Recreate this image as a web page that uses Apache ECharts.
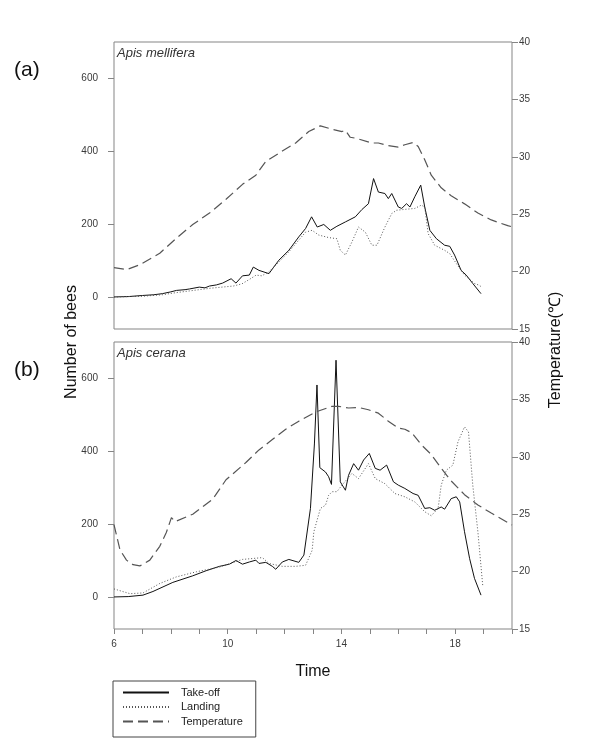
<!DOCTYPE html>
<html>
<head>
<meta charset="utf-8">
<script src="https://cdn.jsdelivr.net/npm/echarts@6/dist/echarts.min.js"></script>
<style>
  html, body { margin: 0; padding: 0; background: #fff; }
  #chart { width: 606px; height: 740px; }
</style>
</head>
<body>
<div id="chart"></div>
<script>
// [hour, value] pairs
const takeoffA = [[6.0,0],[6.5,1],[7.0,4],[7.4,6],[7.7,9],[8.0,14],[8.2,18],[8.5,20],[8.66,22],[9.0,27],[9.2,25],[9.36,30],[9.6,33],[9.82,38],[10.12,50],[10.29,38],[10.52,58],[10.76,60],[10.9,82],[11.1,73],[11.45,64],[11.8,101],[12.15,128],[12.5,165],[12.74,188],[12.95,220],[13.15,192],[13.38,199],[13.61,183],[13.84,194],[14.14,206],[14.49,220],[14.72,240],[14.95,256],[15.13,325],[15.3,288],[15.53,284],[15.65,270],[15.77,284],[16.0,247],[16.12,243],[16.29,256],[16.41,247],[16.58,275],[16.79,307],[16.93,247],[17.11,183],[17.34,160],[17.63,142],[17.81,139],[17.98,115],[18.21,73],[18.39,60],[18.62,37],[18.91,9]];
const landingA = [[6.0,0],[7.0,2],[7.7,6],[8.2,12],[8.7,17],[9.0,20],[9.4,24],[9.8,27],[10.2,30],[10.5,36],[10.76,48],[11.0,60],[11.2,58],[11.45,69],[11.8,96],[12.15,124],[12.5,156],[12.74,178],[12.97,183],[13.2,170],[13.55,163],[13.84,160],[13.96,128],[14.14,115],[14.37,151],[14.6,192],[14.84,178],[15.07,142],[15.25,142],[15.53,192],[15.77,229],[15.94,238],[16.17,240],[16.58,243],[16.81,252],[16.93,247],[17.05,174],[17.28,142],[17.63,128],[17.81,119],[18.04,92],[18.33,60],[18.68,37],[18.85,32],[18.9,29]];
const tempA = [[6.0,20.35],[6.44,20.17],[6.91,20.6],[7.61,21.6],[8.19,22.9],[8.77,24.1],[9.36,25.1],[9.94,26.3],[10.52,27.6],[10.99,28.4],[11.34,29.6],[11.92,30.5],[12.39,31.2],[12.85,32.2],[13.26,32.7],[13.67,32.4],[14.02,32.2],[14.14,32.3],[14.31,31.7],[14.54,31.6],[15.07,31.2],[15.3,31.2],[15.65,30.97],[16.0,30.85],[16.23,31.05],[16.52,31.25],[16.7,30.9],[16.93,29.75],[17.16,28.4],[17.51,27.3],[17.86,26.6],[18.33,25.9],[18.8,25.1],[19.27,24.5],[19.85,24.0],[20.0,23.9]];

const takeoffB = [[6.0,0],[6.5,1],[7.02,5],[7.37,15],[8.07,40],[8.77,58],[9.24,72],[9.71,84],[10.06,90],[10.29,100],[10.52,90],[10.76,96],[10.99,101],[11.1,92],[11.34,95],[11.57,84],[11.69,76],[11.92,96],[12.15,103],[12.5,95],[12.68,115],[12.91,243],[13.05,420],[13.14,582],[13.24,355],[13.44,343],[13.55,330],[13.65,309],[13.81,650],[13.96,316],[14.14,293],[14.25,334],[14.43,366],[14.6,348],[14.78,376],[14.98,394],[15.19,353],[15.36,348],[15.59,362],[15.83,316],[16.0,307],[16.23,298],[16.52,284],[16.7,279],[16.93,243],[17.11,245],[17.28,238],[17.51,247],[17.63,241],[17.86,270],[18.04,275],[18.16,261],[18.33,179],[18.51,105],[18.68,51],[18.91,5]];
const landingB = [[6.0,22],[6.09,20],[6.56,9],[7.02,11],[7.61,37],[8.19,55],[8.89,69],[9.71,82],[10.52,103],[11.22,108],[11.45,92],[11.92,84],[12.39,84],[12.74,87],[12.97,128],[13.03,179],[13.26,243],[13.44,252],[13.55,279],[13.67,289],[13.84,289],[14.02,307],[14.37,339],[14.6,325],[14.95,366],[15.19,325],[15.53,311],[15.88,284],[16.23,275],[16.58,261],[16.93,234],[17.16,223],[17.4,243],[17.51,307],[17.69,348],[17.92,362],[18.1,426],[18.33,467],[18.47,453],[18.62,307],[18.8,179],[18.97,32]];
const tempB = [[6.0,24.1],[6.21,21.9],[6.44,21.0],[6.67,20.6],[6.91,20.5],[7.26,21.0],[7.61,22.2],[7.84,23.4],[8.02,24.7],[8.15,24.35],[8.77,25.0],[9.47,26.3],[9.94,28.0],[10.64,29.5],[11.1,30.6],[11.57,31.5],[12.04,32.4],[12.5,33.1],[13.09,33.9],[13.67,34.4],[13.9,34.4],[14.25,34.25],[14.6,34.3],[14.95,34.1],[15.3,33.8],[15.65,33.1],[16.0,32.5],[16.23,32.4],[16.47,32.1],[16.81,31.05],[17.16,30.2],[17.51,29.0],[17.86,27.9],[18.33,26.7],[18.8,25.8],[19.27,25.1],[20.0,24.05]];

const countTicks = [0, 200, 400, 600];
const timeLabels = [6, 10, 14, 18];
const seriesNames = ['Take-off', 'Landing', 'Temperature'];
const panelTitles = ['Apis mellifera', 'Apis cerana'];

const FONT = '"Liberation Sans", Arial, sans-serif';
const frame = '#858585';
const labelStyle = { color: '#3a3a3a', fontSize: 10, fontFamily: FONT };

const chart = echarts.init(document.getElementById('chart'));

const grids = [
  { left: 114, top: 42, width: 398, height: 287 },
  { left: 114, top: 342, width: 398, height: 287 }
].map(g => Object.assign(g, { show: true, borderColor: frame, borderWidth: 1, backgroundColor: 'transparent' }));

const xAxes = [
  { type: 'value', gridIndex: 0, min: 6, max: 20, show: false },
  {
    type: 'value', gridIndex: 1, min: 6, max: 20, interval: 1,
    axisLine: { show: false, onZero: false },
    axisTick: { show: true, length: 5, lineStyle: { color: frame } },
    axisLabel: Object.assign({ margin: 10, formatter: v => timeLabels.includes(v) ? String(v) : '' }, labelStyle),
    splitLine: { show: false },
    name: 'Time', nameLocation: 'middle', nameGap: 35,
    nameTextStyle: { fontSize: 16, color: '#111', fontFamily: FONT }
  }
];

function countAxis(gi) {
  return {
    type: 'value', gridIndex: gi, min: -88, max: 700, position: 'left',
    axisLine: { show: false, onZero: false },
    axisTick: { show: true, length: 6, customValues: countTicks, lineStyle: { color: frame } },
    axisLabel: Object.assign({ margin: 16, customValues: countTicks }, labelStyle),
    splitLine: { show: false }
  };
}
function tempAxis(gi) {
  return {
    type: 'value', gridIndex: gi, min: 15, max: 40, interval: 5, position: 'right',
    axisLine: { show: false, onZero: false },
    axisTick: { show: true, length: 6, lineStyle: { color: frame } },
    axisLabel: Object.assign({ margin: 7 }, labelStyle),
    splitLine: { show: false }
  };
}

const styles = {
  'Take-off': { color: '#111', width: 1, type: 'solid' },
  'Landing': { color: '#555', width: 1, type: [1, 2] },
  'Temperature': { color: '#555', width: 1.2, type: [10, 5] }
};

function line(name, data, gi, yi) {
  return {
    type: 'line', name, data, xAxisIndex: gi, yAxisIndex: yi,
    symbol: 'none', silent: true, animation: false,
    itemStyle: { color: styles[name].color },
    lineStyle: styles[name],
    emphasis: { disabled: true }
  };
}

const series = [
  line('Take-off', takeoffA, 0, 0),
  line('Landing', landingA, 0, 0),
  line('Temperature', tempA, 0, 1),
  line('Take-off', takeoffB, 1, 2),
  line('Landing', landingB, 1, 2),
  line('Temperature', tempB, 1, 3)
];

const graphic = [
  { type: 'text', left: 14, top: 60, style: { text: '(a)', font: '21px ' + FONT, fill: '#111' } },
  { type: 'text', left: 14, top: 360, style: { text: '(b)', font: '21px ' + FONT, fill: '#111' } },
  { type: 'text', left: 117, top: 47, style: { text: panelTitles[0], font: 'italic 13px ' + FONT, fill: '#333' } },
  { type: 'text', left: 117, top: 347, style: { text: panelTitles[1], font: 'italic 13px ' + FONT, fill: '#333' } },
  { type: 'text', x: 72, y: 342, rotation: Math.PI / 2,
    style: { text: 'Number of bees', font: '16px ' + FONT, fill: '#111', align: 'center', verticalAlign: 'middle' } },
  { type: 'text', x: 556, y: 350, rotation: Math.PI / 2,
    style: { text: 'Temperature(℃)', font: '16px ' + FONT, fill: '#111', align: 'center', verticalAlign: 'middle' } }
];

chart.setOption({
  animation: false,
  backgroundColor: '#fff',
  grid: grids,
  xAxis: xAxes,
  yAxis: [countAxis(0), tempAxis(0), countAxis(1), tempAxis(1)],
  legend: {
    data: seriesNames,
    orient: 'vertical', left: 113, top: 681,
    padding: [6, 13, 10, 9],
    itemWidth: 46, itemHeight: 12, itemGap: 3.5,
    borderColor: '#444', borderWidth: 1,
    selectedMode: false,
    itemStyle: { color: 'transparent', borderWidth: 0, opacity: 0 },
    textStyle: { fontSize: 11, color: '#222', fontFamily: FONT, padding: [0, 0, 0, 7] }
  },
  series,
  graphic
});
</script>
</body>
</html>
